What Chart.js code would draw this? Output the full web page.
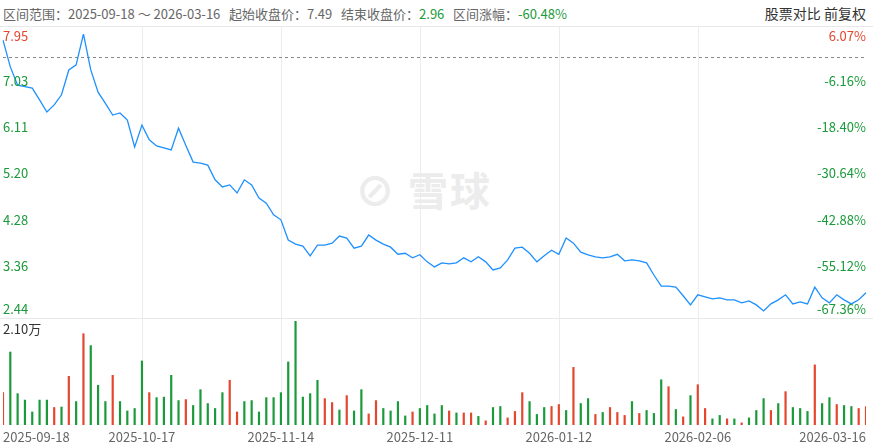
<!DOCTYPE html><html><head><meta charset="utf-8">
<script src="https://cdn.jsdelivr.net/npm/chart.js@4"></script>
<style>
body{margin:0;width:873px;height:447px;position:relative;background:#fff;font-family:"Noto Sans CJK SC","Noto Sans",sans-serif;overflow:hidden}
#hdr{position:absolute;top:4px;left:3px;font-size:13px;color:#666;white-space:nowrap}
#hdr span.g{color:#1a9a3a}
#rt{position:absolute;top:3px;right:7px;font-size:14px;color:#333}
#wm{position:absolute;left:355px;top:160px;font-size:40px;color:#ececec;font-weight:bold;letter-spacing:2px}
canvas{display:block}
.w{position:absolute;left:0;width:873px}
#line{position:absolute;top:26px;left:0;width:873px;height:1px;background:#e8e8e8}
#line2{position:absolute;top:318px;left:0;width:873px;height:1px;background:#e8e8e8}
</style></head><body>
<div id="hdr">区间范围：2025-09-18 ～ 2026-03-16&nbsp;&nbsp;&nbsp;起始收盘价：7.49&nbsp;&nbsp;&nbsp;结束收盘价：<span class="g">2.96</span>&nbsp;&nbsp;&nbsp;区间涨幅：<span class="g">-60.48%</span></div>
<div id="rt">股票对比&nbsp;前复权</div>
<div id="wm">⊘ 雪球</div>
<div id="line"></div><div id="line2"></div>
<div class="w" style="top:26px;height:292px"><canvas id="c1"></canvas></div>
<div class="w" style="top:318px;height:129px"><canvas id="c2"></canvas></div>
<script>
const prices=[7.83,7.30,6.94,6.91,6.88,6.65,6.41,6.55,6.75,7.24,7.34,7.95,7.24,6.80,6.58,6.35,6.39,6.25,5.72,6.15,5.86,5.74,5.70,5.66,6.09,5.75,5.42,5.40,5.36,5.07,4.93,4.97,4.81,5.07,4.97,4.71,4.61,4.38,4.28,3.88,3.80,3.76,3.57,3.78,3.78,3.82,3.96,3.92,3.72,3.76,3.98,3.88,3.80,3.74,3.60,3.62,3.53,3.59,3.45,3.35,3.43,3.41,3.43,3.53,3.45,3.55,3.45,3.29,3.33,3.49,3.72,3.74,3.62,3.45,3.57,3.68,3.60,3.92,3.82,3.64,3.59,3.55,3.53,3.55,3.60,3.47,3.49,3.47,3.43,3.19,2.97,2.97,2.95,2.78,2.60,2.80,2.76,2.72,2.74,2.70,2.70,2.64,2.68,2.60,2.48,2.62,2.70,2.80,2.62,2.66,2.62,2.95,2.74,2.64,2.80,2.70,2.62,2.70,2.84];
const volumes=[0.66,1.48,0.64,0.51,0.27,0.51,0.51,0.36,0.37,0.99,0.48,1.85,1.61,0.81,0.48,1.01,0.48,0.29,0.34,1.30,0.66,0.56,0.57,1.01,0.50,0.52,0.40,0.72,0.44,0.34,0.66,0.91,0.27,0.48,0.50,0.27,0.56,0.56,0.66,1.28,2.10,0.57,0.64,0.91,0.54,0.46,0.31,0.60,0.29,0.72,0.23,0.50,0.34,0.29,0.48,0.19,0.27,0.34,0.40,0.23,0.40,0.29,0.25,0.25,0.25,
0.18,0.09,0.36,0.38,0.15,0.28,0.66,0.48,0.22,0.36,0.38,0.42,0.30,1.17,0.44,0.54,0.22,0.26,0.36,0.26,0.20,0.48,0.24,0.30,0.24,0.92,0.78,0.32,0.17,0.60,0.82,0.34,0.13,0.20,0.13,0.13,0.05,0.15,0.30,0.54,0.30,0.44,0.68,0.36,0.34,0.28,1.22,0.44,0.56,0.42,0.40,0.38,0.34,0.38];
const upDown=("rggggggrgr"+"grgggrgggg"+"rggggrgggg"+"grrggggggg"+"ggggrrgrgg"+"rrggggrggg"+"grgrr"+"grggrrrggg"+"rrgrggrgrr"+"rgrgggrgrg"+"rrggrgrggg"+"rgrgggrggr"+"ggrr").split('');
const dateLabels=["2025-09-18","2025-10-17","2025-11-14","2025-12-11","2026-01-12","2026-02-06","2026-03-16"];
const dateIdx=[0,19,38,57,76,95,118];
const priceTicks=[7.95,7.03,6.11,5.20,4.28,3.36,2.44];
const pctTicks=["6.07%","-6.16%","-18.40%","-30.64%","-42.88%","-55.12%","-67.36%"];
const startClose=7.49, volMaxLabel="2.10万";
const RED='#e4462e',GREEN='#1a9a3a';
const labels=prices.map((_,i)=>i);
const font='"Noto Sans CJK SC","Noto Sans",sans-serif';
function vgrid(ch,top,bottom){const c=ch.ctx,x=ch.scales.x;c.save();c.strokeStyle='#ececec';c.lineWidth=1;
 dateIdx.slice(1,-1).forEach(i=>{const px=Math.round(x.getPixelForValue(i))+0.5;c.beginPath();c.moveTo(px,top);c.lineTo(px,bottom);c.stroke();});c.restore();}
new Chart(document.getElementById('c1'),{type:'line',
 data:{labels,datasets:[{data:prices,borderColor:'#1e90ff',borderWidth:1.3,pointRadius:0,tension:0}]},
 options:{responsive:true,maintainAspectRatio:false,animation:false,events:[],
  layout:{padding:{left:3,right:7,top:8,bottom:5}},
  plugins:{legend:{display:false},tooltip:{enabled:false}},
  scales:{x:{type:'category',offset:false,display:false},y:{min:2.44,max:7.95,display:false}}},
 plugins:[{id:'p',beforeDatasetsDraw(ch){const c=ch.ctx,y=ch.scales.y,a=ch.chartArea;vgrid(ch,0,ch.height);
   c.save();c.strokeStyle='#888';c.setLineDash([3,3]);c.lineWidth=1;const py=Math.round(y.getPixelForValue(startClose))+0.5;
   c.beginPath();c.moveTo(a.left,py);c.lineTo(a.right,py);c.stroke();c.restore();},
  afterDatasetsDraw(ch){const c=ch.ctx,y=ch.scales.y,a=ch.chartArea;c.save();c.font='13px '+font;c.textBaseline='middle';
   priceTicks.forEach((t,i)=>{let py=y.getPixelForValue(t);if(i==0)py+=2;if(i==priceTicks.length-1)py-=4;c.fillStyle=i==0?RED:GREEN;
    c.textAlign='left';c.fillText(t.toFixed(2),3,py);c.textAlign='right';c.fillText(pctTicks[i],866,py);});c.restore();}}]});
new Chart(document.getElementById('c2'),{type:'bar',
 data:{labels,datasets:[{data:volumes,backgroundColor:upDown.map(u=>u=='r'?RED:GREEN),barPercentage:0.3,categoryPercentage:1}]},
 options:{responsive:true,maintainAspectRatio:false,animation:false,events:[],
  layout:{padding:{left:3,right:7,top:3,bottom:22}},
  plugins:{legend:{display:false},tooltip:{enabled:false}},
  scales:{x:{type:'category',offset:false,display:false},y:{min:0,max:2.10,display:false}}},
 plugins:[{id:'v',beforeDatasetsDraw(ch){vgrid(ch,0,ch.chartArea.bottom);},
  afterDatasetsDraw(ch){const c=ch.ctx,x=ch.scales.x,a=ch.chartArea;c.save();c.font='13px '+font;c.textBaseline='middle';
   c.fillStyle='#333';c.textAlign='left';c.fillText(volMaxLabel,3,11);c.fillStyle='#666';
   dateLabels.forEach((d,k)=>{const px=x.getPixelForValue(dateIdx[k]);c.textAlign=k==0?'left':(k==dateLabels.length-1?'right':'center');
    c.fillText(d,k==0?3:(k==dateLabels.length-1?866:px),a.bottom+12);});c.restore();}}]});
</script></body></html>
